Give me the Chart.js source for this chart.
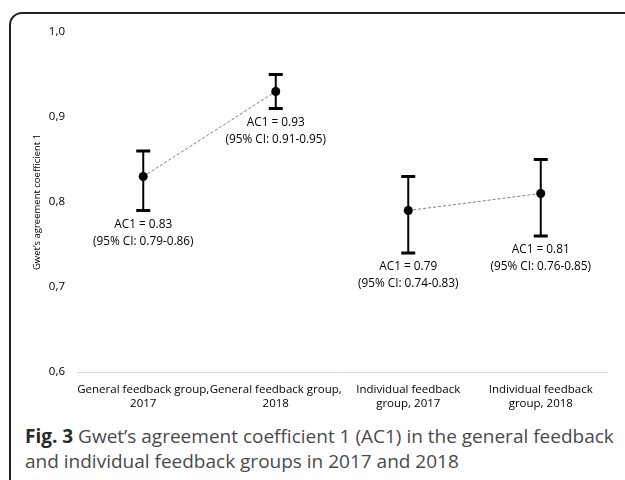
<!DOCTYPE html>
<html>
<head>
<meta charset="utf-8">
<script src="https://cdn.jsdelivr.net/npm/chart.js@4"></script>
<style>
  html, body { margin: 0; padding: 0; background: #fff; overflow: hidden; }
  body { width: 625px; height: 480px; position: relative; }
  .frame { position: absolute; left: 0; top: 0; }
  #wrap { position: absolute; left: 0; top: 0; width: 625px; height: 420px; }
  .caption {
    position: absolute; left: 25px; top: 424px; width: 600px;
    font-family: "Open Sans", sans-serif; font-size: 19px; line-height: 25px;
    color: #4a4a4a; white-space: nowrap;
  }
  .caption b { color: #2a2a2a; }
</style>
</head>
<body>
<svg class="frame" width="625" height="480" viewBox="0 0 625 480">
  <path d="M10 480 V25 A12 12 0 0 1 22 13 H625" fill="none" stroke="#222" stroke-width="2"/>
</svg>
<div id="wrap"><canvas id="c"></canvas></div>
<div class="caption"><b>Fig. 3</b> Gwet’s agreement coefficient 1 (AC1) in the general feedback<br>and individual feedback groups in 2017 and 2018</div>
<script>
// Groups compared, one entry per year and feedback type
const categories = [
  ["General feedback group,", "2017"],
  ["General feedback group,", "2018"],
  ["Individual feedback", "group, 2017"],
  ["Individual feedback", "group, 2018"]
];
// Gwet's AC1 point estimates and 95% confidence limits
const ac1 = [0.83, 0.93, 0.79, 0.81];
const ciLow = [0.79, 0.91, 0.74, 0.76];
const ciHigh = [0.86, 0.95, 0.83, 0.85];
// Which pairs of points are joined by a dashed line
const generalGroup = [ac1[0], ac1[1], null, null];
const individualGroup = [null, null, ac1[2], ac1[3]];
const yTicks = [0.6, 0.7, 0.8, 0.9, 1.0];

const FONT = '"Open Sans", sans-serif';

// Error bars with flat caps
const errorBars = {
  id: 'errorBars',
  afterDatasetsDraw(chart) {
    const { ctx, scales: { x, y } } = chart;
    ctx.save();
    ctx.strokeStyle = '#000';
    ac1.forEach((v, i) => {
      const px = x.getPixelForValue(i);
      const top = y.getPixelForValue(ciHigh[i]);
      const bot = y.getPixelForValue(ciLow[i]);
      ctx.lineWidth = 2;
      ctx.beginPath();
      ctx.moveTo(px, top); ctx.lineTo(px, bot);
      ctx.stroke();
      ctx.lineWidth = 3;
      ctx.beginPath();
      ctx.moveTo(px - 7, top); ctx.lineTo(px + 7, top);
      ctx.moveTo(px - 7, bot); ctx.lineTo(px + 7, bot);
      ctx.stroke();
    });
    ctx.restore();
  }
};

// Value labels under each lower confidence limit
const valueLabels = {
  id: 'valueLabels',
  afterDatasetsDraw(chart) {
    const { ctx, scales: { x, y } } = chart;
    ctx.save();
    ctx.fillStyle = '#000';
    ctx.font = '11.8px ' + FONT;
    ctx.textAlign = 'center';
    ctx.textBaseline = 'middle';
    ac1.forEach((v, i) => {
      const px = x.getPixelForValue(i);
      const py = y.getPixelForValue(ciLow[i]) + 14;
      ctx.fillText('AC1 = ' + v.toFixed(2), px, py);
      ctx.fillText('(95% CI: ' + ciLow[i].toFixed(2) + '-' + ciHigh[i].toFixed(2) + ')', px, py + 17);
    });
    ctx.restore();
  }
};

const lineStyle = {
  borderColor: '#7f7f7f',
  borderWidth: 1,
  borderDash: [3, 2],
  pointRadius: 4.5,
  pointHoverRadius: 4.5,
  pointBackgroundColor: '#000',
  pointBorderColor: '#000',
  pointBorderWidth: 0,
  spanGaps: false,
  fill: false,
  tension: 0
};

new Chart(document.getElementById('c'), {
  type: 'line',
  data: {
    labels: categories,
    datasets: [
      Object.assign({ label: 'General feedback group', data: generalGroup }, lineStyle),
      Object.assign({ label: 'Individual feedback group', data: individualGroup }, lineStyle)
    ]
  },
  options: {
    responsive: true,
    maintainAspectRatio: false,
    animation: false,
    events: [],
    layout: { padding: { left: 0, right: 18, top: 32, bottom: 0 } },
    plugins: { legend: { display: false }, tooltip: { enabled: false } },
    scales: {
      x: {
        offset: true,
        grid: { display: false, drawTicks: false, offset: true },
        border: { display: true, color: '#d9d9d9', width: 1 },
        ticks: { color: '#000', font: { family: FONT, size: 11.5 }, padding: 11, maxRotation: 0, autoSkip: false },
        afterFit(scale) { scale.height = 48; }
      },
      y: {
        min: 0.6, max: 1.0,
        afterBuildTicks(scale) { scale.ticks = yTicks.map(v => ({ value: v })); },
        grid: { display: false, drawTicks: false },
        border: { display: false },
        ticks: {
          color: '#000', font: { family: FONT, size: 11.5 }, padding: 12,
          callback: v => Number(v).toFixed(1).replace('.', ',')
        },
        title: {
          display: true, text: 'Gwet’s agreement coefficient 1', color: '#000',
          font: { family: FONT, size: 9.5 }, padding: { top: 32, bottom: 0 }
        },
        afterFit(scale) { scale.width = 77; }
      }
    }
  },
  plugins: [errorBars, valueLabels]
});
</script>
</body>
</html>
